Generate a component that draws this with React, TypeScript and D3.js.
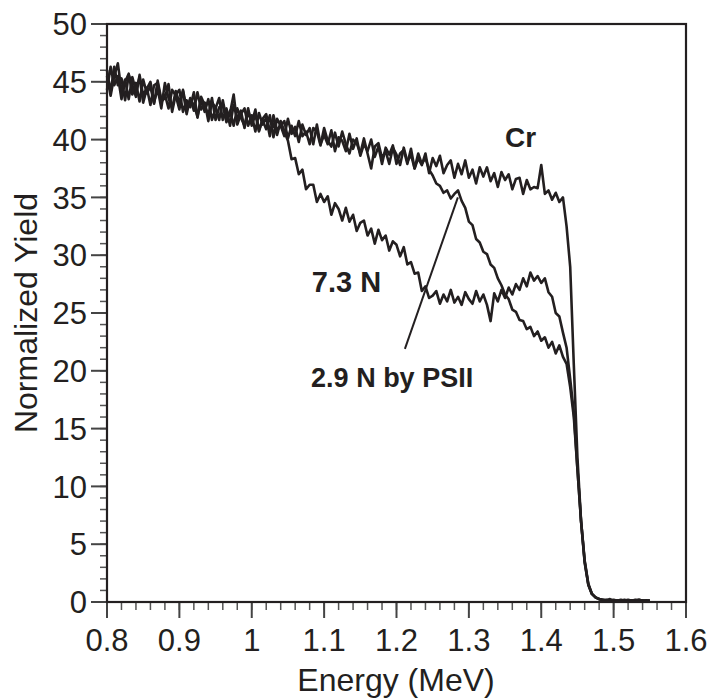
import React from "react";
import * as d3 from "d3";

// Energy grid: channels every 0.005 MeV from 0.800 to 1.550
const E_START = 0.8;
const E_STEP = 0.005;

const crYield = [
  46.0, 44.1, 46.3, 44.7, 45.3, 43.4, 45.6, 44.7, 43.7, 45.6,
  43.8, 44.5, 43.0, 44.7, 44.9, 43.3, 43.6, 44.8, 42.4, 43.9,
  44.3, 42.4, 43.4, 42.8, 44.1, 41.9, 43.5, 42.4, 43.5, 41.7,
  42.7, 43.6, 41.7, 42.7, 41.2, 43.0, 41.8, 42.5, 41.0, 42.5,
  41.4, 42.6, 40.8, 41.7, 40.9, 42.1, 40.2, 41.8, 41.2, 40.3,
  41.8, 40.5, 41.1, 39.8, 41.3, 40.4, 41.0, 39.6, 41.3, 39.6,
  40.4, 39.6, 40.8, 39.0, 40.2, 39.9, 39.0, 40.5, 39.2, 40.1,
  38.6, 39.6, 39.0, 40.0, 38.5, 39.4, 37.9, 39.3, 38.7, 39.5,
  37.9, 38.8, 39.1, 37.9, 39.2, 37.5, 38.4, 37.8, 38.8, 37.1,
  38.4, 37.7, 38.6, 37.1, 37.8, 38.2, 36.7, 37.9, 37.0, 38.2,
  36.7, 37.4, 36.2, 37.6, 36.8, 37.6, 36.4, 37.1, 35.9, 37.2,
  36.5, 37.0, 35.7, 36.6, 36.7, 35.3, 36.5, 35.7, 35.9, 35.8,
  37.8, 35.3, 35.6, 34.8, 35.4, 34.6, 35.0, 32.5, 29.0, 20.5,
  12.5, 7.0, 3.4, 1.5, 0.7, 0.4, 0.25, 0.2, 0.15, 0.25,
  0.1, 0.15, 0.1, 0.2, 0.1, 0.15, 0.1, 0.2, 0.1, 0.15,
  0.1,
];

const psiiYield = [
  44.3, 46.3, 44.7, 45.5, 43.5, 45.0, 45.7, 43.9, 44.9, 43.3,
  45.2, 44.0, 44.6, 43.1, 45.1, 43.5, 43.9, 42.7, 44.3, 43.8,
  42.6, 44.3, 42.7, 43.5, 43.0, 42.0, 43.7, 43.0, 42.1, 43.6,
  41.7, 42.8, 43.0, 41.5, 42.3, 43.9, 41.3, 42.2, 42.7, 41.2,
  42.1, 40.7, 42.3, 41.3, 41.9, 40.3, 42.1, 40.8, 41.2, 41.6,
  40.1, 41.2, 40.3, 41.6, 40.3, 40.7, 39.6, 41.0, 40.7, 39.5,
  41.0, 39.9, 39.4, 40.6, 39.4, 40.7, 39.6, 38.8, 40.0, 39.7,
  38.8, 40.1, 38.8, 37.5, 39.4, 39.7, 38.4, 39.0, 37.9, 39.3,
  38.7, 37.8, 39.3, 38.1, 38.7, 37.5, 38.8, 37.9, 38.4, 37.4,
  36.9, 36.2, 36.0, 35.4, 35.6, 34.9, 35.3, 35.6, 34.7, 34.1,
  32.9, 32.6, 31.4, 31.1, 30.3, 30.1, 29.2, 28.9, 28.0, 27.4,
  26.6, 26.2, 25.3, 25.1, 24.4, 24.3, 23.6, 23.8, 23.0, 23.4,
  22.6, 22.9, 22.0, 22.5, 21.5, 22.2, 21.2, 20.6, 18.6, 16.0,
  11.5, 7.0, 3.5, 1.5, 0.7, 0.4, 0.25, 0.15, 0.2, 0.1,
  0.15, 0.1, 0.2, 0.1, 0.15, 0.1, 0.2, 0.1, 0.15, 0.1,
  0.1,
];

const n73Yield = [
  45.5, 43.8, 45.5, 46.6, 44.2, 45.2, 43.5, 45.4, 44.2, 45.4,
  43.2, 44.4, 45.0, 43.2, 44.4, 42.7, 44.9, 43.6, 42.7, 44.2,
  43.2, 44.2, 42.2, 43.6, 42.5, 44.1, 42.6, 43.2, 41.6, 43.2,
  42.8, 41.7, 43.4, 41.8, 42.5, 41.2, 42.7, 41.9, 41.2, 42.7,
  41.2, 42.2, 40.7, 41.8, 42.2, 40.7, 41.4, 40.4, 41.6, 40.7,
  39.9, 38.3, 38.4, 37.0, 37.4, 35.7, 36.1, 36.1, 34.6, 35.3,
  34.6, 35.1, 33.5, 34.5, 34.0, 33.0, 34.1, 32.9, 33.5, 32.1,
  32.8, 33.0, 31.7, 32.3, 31.0, 32.2, 31.3, 31.7, 30.4, 31.2,
  30.9, 29.9, 30.7, 29.2, 29.4, 28.4, 28.5, 26.9, 27.3, 26.3,
  26.5, 26.9, 25.8, 26.6, 26.0, 27.0, 25.9, 26.4, 25.7, 26.8,
  26.2, 25.8, 26.9, 26.0, 26.6, 25.7, 24.3, 26.7, 26.0, 27.0,
  26.3, 27.2, 26.6, 27.5, 27.0, 28.0, 27.3, 28.5, 27.8, 28.2,
  27.6, 28.0, 26.8, 26.4, 25.0, 24.7, 23.3, 22.0, 19.3, 16.4,
  11.5, 7.0, 3.6, 1.6, 0.7, 0.4, 0.25, 0.2, 0.1, 0.15,
  0.2, 0.1, 0.15, 0.1, 0.2, 0.1, 0.15, 0.2, 0.1, 0.1,
  0.15,
];

const xTicks = [0.8, 0.9, 1.0, 1.1, 1.2, 1.3, 1.4, 1.5, 1.6];
const yTicks = [0, 5, 10, 15, 20, 25, 30, 35, 40, 45, 50];

const INK = "#231f20";
const FONT = "'Liberation Sans', Arial, Helvetica, sans-serif";

export default function App() {
  const W = 713;
  const H = 700;
  const x = d3.scaleLinear().domain([0.8, 1.6]).range([107, 686]);
  const y = d3.scaleLinear().domain([0, 50]).range([602, 24]);

  const energies = crYield.map((_, i) => E_START + E_STEP * i);
  const line = d3
    .line<number>()
    .x((_, i) => x(energies[i]))
    .y((v) => y(v));

  const xMinor = d3.range(0.8, 1.6001, 0.02);
  const yMinor = d3.range(0, 50.001, 1);

  return (
    <svg
      width={W}
      height={H}
      style={{ position: "absolute", left: 0, top: 0, display: "block" }}
      fontFamily={FONT}
    >
      <rect x={0} y={0} width={W} height={H} fill="#fff" />
      {yMinor.map((t) => (
        <line key={"ym" + t} x1={100} x2={107} y1={y(t)} y2={y(t)} stroke="#555" strokeWidth={1.5} />
      ))}
      {xMinor.map((t) => (
        <line key={"xm" + t} x1={x(t)} x2={x(t)} y1={602} y2={610} stroke="#555" strokeWidth={1.5} />
      ))}
      {yTicks.map((t) => (
        <line key={"yM" + t} x1={91} x2={107} y1={y(t)} y2={y(t)} stroke="#444" strokeWidth={2} />
      ))}
      {xTicks.map((t) => (
        <line key={"xM" + t} x1={x(t)} x2={x(t)} y1={602} y2={618} stroke="#444" strokeWidth={2} />
      ))}
      {yTicks.map((t) => (
        <text key={"yl" + t} x={87} y={y(t)} dy="0.36em" textAnchor="end" fontSize={31} fill={INK}>
          {t}
        </text>
      ))}
      {xTicks.map((t) => (
        <text key={"xl" + t} x={x(t)} y={651} textAnchor="middle" fontSize={31} fill={INK}>
          {d3.format("~g")(t)}
        </text>
      ))}
      <text x={396} y={691} textAnchor="middle" fontSize={32} fill={INK}>
        Energy (MeV)
      </text>
      <text transform="translate(37,313) rotate(-90)" textAnchor="middle" fontSize={32} fill={INK}>
        Normalized Yield
      </text>
      {[crYield, psiiYield, n73Yield].map((s, k) => (
        <path key={"s" + k} d={line(s) || ""} fill="none" stroke={INK} strokeWidth={2.6} strokeLinejoin="round" />
      ))}
      <rect x={107} y={24} width={579} height={578} fill="none" stroke={INK} strokeWidth={2.2} />
      <text x={x(1.35)} y={y(39.36)} fontSize={28} fontWeight="bold" fill={INK}>
        Cr
      </text>
      <text x={x(1.083)} y={y(26.8)} fontSize={29} fontWeight="bold" fill={INK}>
        7.3 N
      </text>
      <text x={x(1.082)} y={y(18.6)} fontSize={27} fontWeight="bold" fill={INK}>
        2.9 N by PSII
      </text>
      <line x1={x(1.2116)} y1={y(21.9)} x2={x(1.2848)} y2={y(35.0)} stroke={INK} strokeWidth={2} />
    </svg>
  );
}
